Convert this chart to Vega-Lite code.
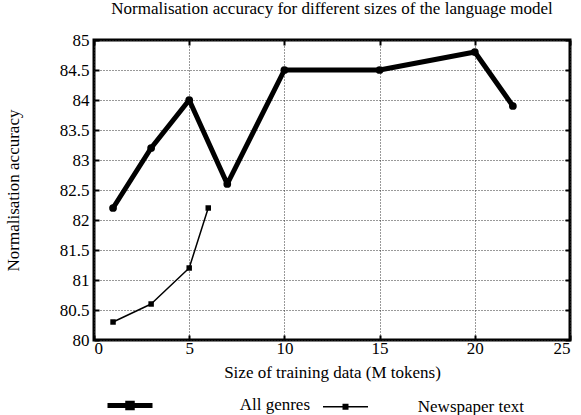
{
  "$schema": "https://vega.github.io/schema/vega-lite/v6.json",
  "width": 476,
  "height": 300,
  "autosize": {"type": "none"},
  "padding": {"left": 94, "top": 40, "right": 11, "bottom": 75},
  "background": "white",
  "title": {
    "text": "Normalisation accuracy for different sizes of the language model",
    "font": "Liberation Serif",
    "fontSize": 17,
    "fontWeight": "normal",
    "color": "black",
    "offset": 13
  },
  "config": {
    "view": {"stroke": "black", "strokeWidth": 3},
    "axis": {
      "labelFont": "Liberation Serif",
      "titleFont": "Liberation Serif",
      "labelFontSize": 17,
      "titleFontSize": 17,
      "titleFontWeight": "normal",
      "labelColor": "black",
      "titleColor": "black",
      "domain": false,
      "grid": true,
      "gridColor": "#333333",
      "gridDash": [1, 2],
      "gridWidth": 1,
      "gridOpacity": 1,
      "ticks": true,
      "tickColor": "black",
      "tickWidth": 2,
      "tickSize": -5
    }
  },
  "data": {
    "values": [
      {"series": "All genres", "size": 1, "accuracy": 82.2},
      {"series": "All genres", "size": 3, "accuracy": 83.2},
      {"series": "All genres", "size": 5, "accuracy": 84.0},
      {"series": "All genres", "size": 7, "accuracy": 82.6},
      {"series": "All genres", "size": 10, "accuracy": 84.5},
      {"series": "All genres", "size": 15, "accuracy": 84.5},
      {"series": "All genres", "size": 20, "accuracy": 84.8},
      {"series": "All genres", "size": 22, "accuracy": 83.9},
      {"series": "Newspaper text", "size": 1, "accuracy": 80.3},
      {"series": "Newspaper text", "size": 3, "accuracy": 80.6},
      {"series": "Newspaper text", "size": 5, "accuracy": 81.2},
      {"series": "Newspaper text", "size": 6, "accuracy": 82.2}
    ]
  },
  "resolve": {"axis": {"x": "independent", "y": "independent"}},
  "layer": [
    {
      "mark": {"type": "line", "strokeJoin": "round", "strokeCap": "round"},
      "encoding": {
        "x": {
          "field": "size",
          "type": "quantitative",
          "scale": {"domain": [0, 25], "nice": false},
          "axis": {
            "values": [0, 5, 10, 15, 20, 25],
            "title": "Size of training data (M tokens)",
            "labelPadding": 5,
            "titlePadding": 8
          }
        },
        "y": {
          "field": "accuracy",
          "type": "quantitative",
          "scale": {"domain": [80, 85], "nice": false, "zero": false},
          "axis": {
            "values": [80, 80.5, 81, 81.5, 82, 82.5, 83, 83.5, 84, 84.5, 85],
            "format": "~g",
            "title": "Normalisation accuracy",
            "labelPadding": 10,
            "titlePadding": 37
          }
        },
        "color": {
          "field": "series",
          "type": "nominal",
          "scale": {"domain": ["All genres", "Newspaper text"], "range": ["black", "black"]},
          "legend": {
            "orient": "none",
            "legendX": 11,
            "legendY": 340,
            "direction": "horizontal",
            "title": null,
            "symbolType": "M-1,0L1,0M-0.1,-0.1L0.1,-0.1L0.1,0.1L-0.1,0.1Z",
            "symbolSize": 2025,
            "symbolFillColor": "black",
            "symbolStrokeColor": "black",
            "labelAlign": "right",
            "labelOffset": 155,
            "columnPadding": 10,
            "labelFont": "Liberation Serif",
            "labelFontSize": 17,
            "labelColor": "black",
            "labelLimit": 300
          }
        },
        "strokeWidth": {
          "field": "series",
          "type": "nominal",
          "scale": {"domain": ["All genres", "Newspaper text"], "range": [5, 1.5]}
        }
      }
    },
    {
      "transform": [{"filter": "datum.series === 'All genres'"}],
      "mark": {"type": "point", "filled": true, "opacity": 1, "color": "black", "shape": "circle", "size": 60},
      "encoding": {
        "x": {
          "field": "size",
          "type": "quantitative",
          "axis": {
            "orient": "top",
            "values": [0, 5, 10, 15, 20, 25],
            "labels": false,
            "title": null,
            "grid": false
          }
        },
        "y": {
          "field": "accuracy",
          "type": "quantitative",
          "axis": {
            "orient": "right",
            "values": [80, 80.5, 81, 81.5, 82, 82.5, 83, 83.5, 84, 84.5, 85],
            "labels": false,
            "title": null,
            "grid": false
          }
        }
      }
    },
    {
      "transform": [{"filter": "datum.series === 'Newspaper text'"}],
      "mark": {"type": "point", "filled": true, "opacity": 1, "color": "black", "shape": "square", "size": 30},
      "encoding": {
        "x": {"field": "size", "type": "quantitative", "axis": null},
        "y": {"field": "accuracy", "type": "quantitative", "axis": null}
      }
    }
  ]
}
